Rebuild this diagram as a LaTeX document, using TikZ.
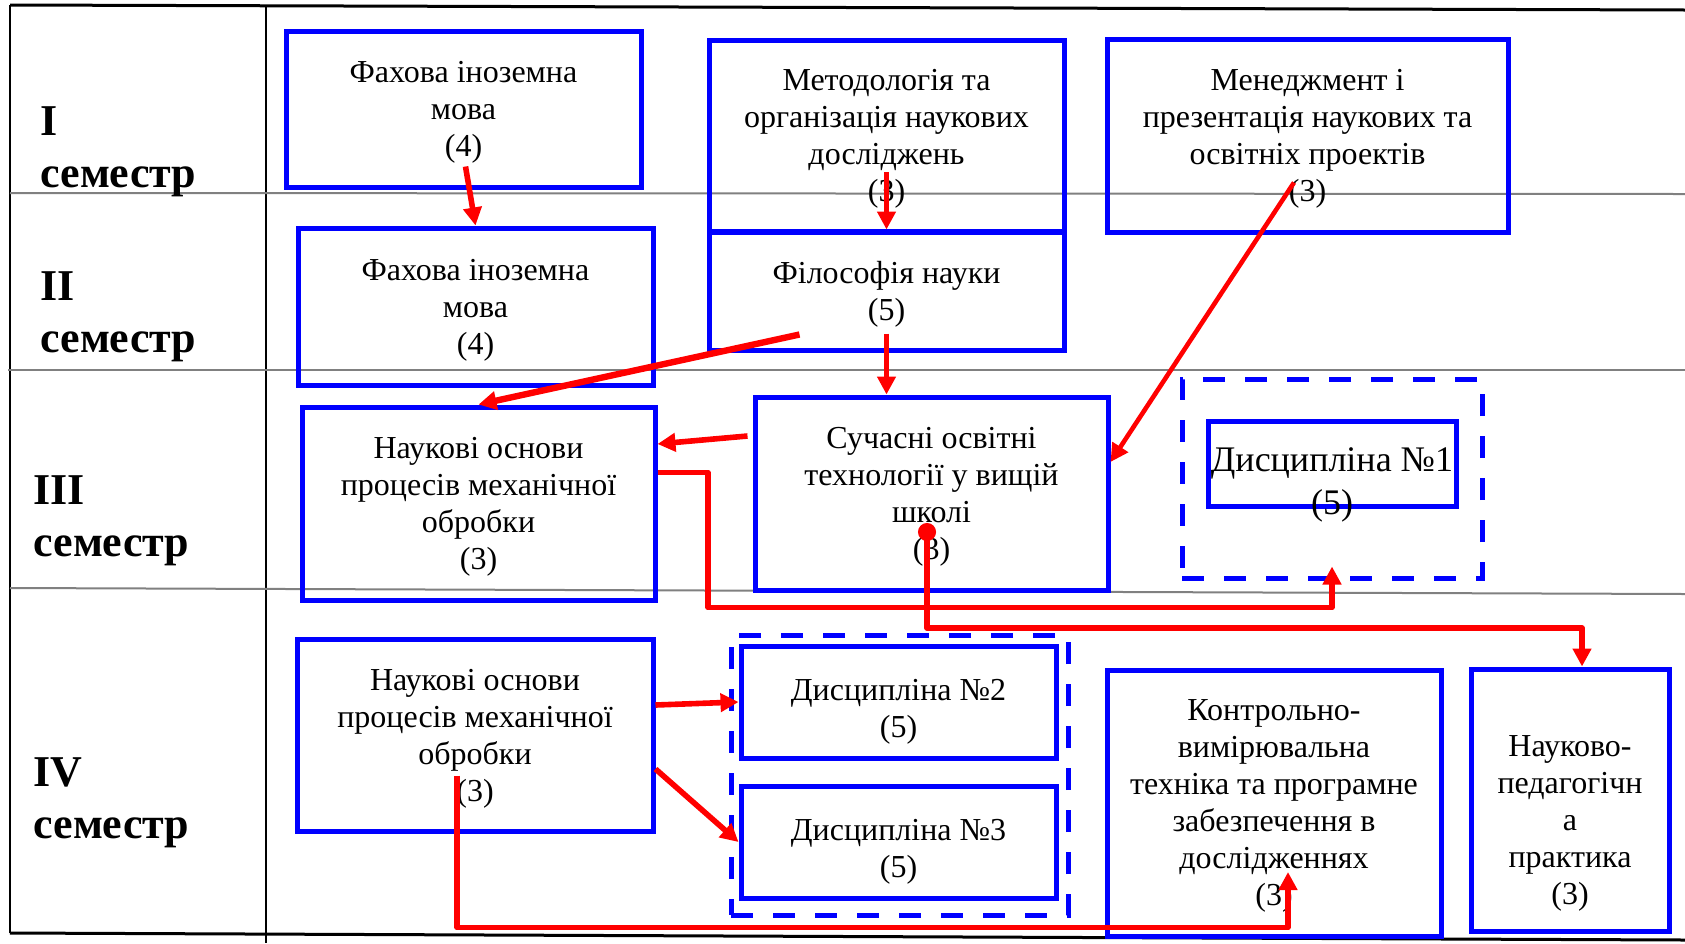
\documentclass[tikz,border=0pt]{standalone}
\usepackage{fontspec}
\setmainfont{Liberation Serif}
\usetikzlibrary{arrows.meta, calc}
\colorlet{boxColor}{blue}
\colorlet{linkColor}{red}
\colorlet{gridColor}{black!50}
\tikzstyle{course}=[rectangle, draw=boxColor, line width=2.5pt, align=center,
font=\fontsize{16}{18.5}\selectfont, text depth=-6pt]
\tikzstyle{group}=[rectangle, draw=boxColor, line width=2.5pt, dash pattern=on 11pt off 10pt]
\tikzstyle{semester}=[anchor=north west, inner sep=0pt, align=left,
font=\fontsize{22}{26}\selectfont\bfseries]
\tikzstyle{arrow}=[->, line width=2.8pt, line join=round, draw=linkColor,
>={Triangle[length=9pt,width=9pt]}]
\tikzstyle{dotarrow}=[arrow, {Circle[length=9pt]}->]

\begin{document}
\begin{tikzpicture}[x=0.5pt, y=-0.5pt]
  \useasboundingbox (0,0) rectangle (1685,943);
  % table lines
  \draw[line width=1.5pt] (10,5) -- (1685,10);
  \draw[line width=1.5pt] (10,933) -- (1685,940);
  \draw[line width=1pt] (10,5) -- (10,933);
  \draw[line width=1pt] (266,5) -- (266,943);
  \draw[gridColor, line width=1pt] (10,193) -- (1685,194);
  \draw[gridColor, line width=1pt] (8,370) -- (1685,370);
  \draw[gridColor, line width=1pt] (10,588) -- (1685,594);

  \node(sem1) [semester] at (40,106) {I\\семестр};
  \node(sem2) [semester] at (40,271) {II\\семестр};
  \node(sem3) [semester] at (33,475) {III\\семестр};
  \node(sem4) [semester] at (33,757) {IV\\семестр};

  % I semester
  \node(fahova1) [course, minimum width=177.5pt, minimum height=78pt] at (463.5,109)
    {Фахова іноземна\\мова\\(4)};
  \node(metod) [course, minimum width=177.5pt, minimum height=95.5pt] at (886.5,135.5)
    {Методологія та\\організація наукових\\досліджень\\(3)};
  \node(menedzh) [course, minimum width=200.5pt, minimum height=96.5pt] at (1307.5,135.5)
    {Менеджмент і\\презентація наукових та\\освітніх проектів\\(3)};
  % II semester
  \node(fahova2) [course, minimum width=177.5pt, minimum height=78.5pt] at (475.5,306.5)
    {Фахова іноземна\\мова\\(4)};
  \node(filos) [course, minimum width=177.5pt, minimum height=59pt] at (886.5,291)
    {Філософія науки\\(5)};
  % III semester
  \node(nauk3) [course, minimum width=176.5pt, minimum height=96.5pt] at (478.5,503.5)
    {Наукові основи\\процесів механічної\\обробки\\(3)};
  \node(suchasni) [course, minimum width=176.5pt, minimum height=96.5pt] at (931.5,493.5)
    {Сучасні освітні\\технології у вищій\\школі\\(3)};
  \node(disc1out) [group, minimum width=150pt, minimum height=99.5pt] at (1332,478.5) {};
  \node(disc1) [course, minimum width=124pt, minimum height=42.5pt,
    label={[align=center, font=\fontsize{18}{21.5}\selectfont, yshift=-10.6pt]center:Дисципліна №1\\(5)}]
    at (1332,463.5) {};
  % IV semester
  \node(nauk4) [course, minimum width=178pt, minimum height=96pt] at (475,735)
    {Наукові основи\\процесів механічної\\обробки\\(3)};
  \node(disc23out) [group, minimum width=168.5pt, minimum height=140pt] at (899.5,775) {};
  \node(disc2) [course, minimum width=157.5pt, minimum height=56pt,
    label={[align=center, font=\fontsize{16}{18.5}\selectfont, yshift=-4.9pt]center:Дисципліна №2\\(5)}]
    at (898.5,702) {};
  \node(disc3) [course, minimum width=157.5pt, minimum height=56pt,
    label={[align=center, font=\fontsize{16}{18.5}\selectfont, yshift=-5pt]center:Дисципліна №3\\(5)}]
    at (898.5,842) {};
  \node(kontrol) [course, minimum width=167pt, minimum height=133pt] at (1274,803)
    {Контрольно-\\вимірювальна\\техніка та програмне\\забезпечення в\\дослідженнях\\(3)};
  \node(praktyka) [course, minimum width=99pt, minimum height=131pt,
    label={[align=center, font=\fontsize{16}{18.5}\selectfont, yshift=-11.6pt]center:Науково-\\педагогічн\\а\\практика\\(3)}]
    at (1570,800) {};

  % links
  \draw[arrow] ($(fahova1.south)+(2,-23)$) -- (fahova2.north);
  \draw[arrow] ($(metod.south)+(0,-61.5)$) -- (filos.north);
  \draw[arrow] ($(filos.south)+(0,-19)$) -- (filos.south |- suchasni.north);
  \draw[arrow, line width=3.2pt] ($(filos.south)+(-87,-18)$) -- (nauk3.north);
  \draw[arrow] ($(suchasni.west)+(-5,-57.5)$) -- ($(nauk3.east)+(0,-59.5)$);
  \draw[arrow, line width=2.3pt] ($(menedzh.south)+(-13.5,-52)$) -- ($(suchasni.east)+(0,-31.5)$);
  \draw[arrow] ($(nauk3.east)+(0,-31)$) -- ++(50.5,0) -- ++(0,135) -| ($(disc1out.south)+(0,-14)$);
  \draw[dotarrow] ($(suchasni.south)+(-4.5,-69.5)$) -- ++(0,105) -| ($(praktyka.north)+(12,0)$);
  \draw[arrow] ($(nauk4.east)+(0,-30)$) -- (disc2.west);
  \draw[arrow] ($(nauk4.east)+(0,34)$) -- (disc3.west);
  \draw[arrow] ($(nauk4.south)+(-18,-58)$) -- ++(0,152) -| ($(kontrol.south)+(14,-66.5)$);
\end{tikzpicture}
\end{document}
